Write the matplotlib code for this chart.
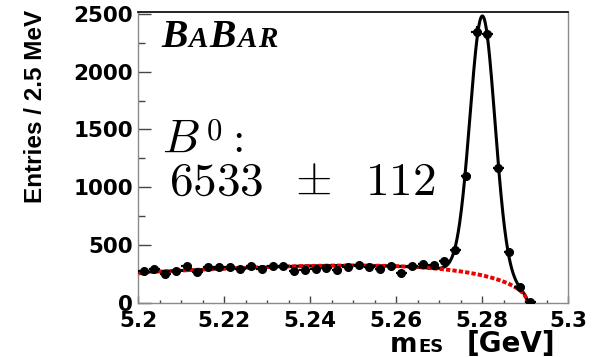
import numpy as np
import matplotlib
matplotlib.use("Agg")
import matplotlib.pyplot as plt
from matplotlib.ticker import MultipleLocator, FuncFormatter
from matplotlib.transforms import IdentityTransform

# ---- data: entries per 2.5 MeV bin of m_ES, starting at 5.200 GeV ----
m_low = 5.200
bin_width = 0.0025
entries = [275, 290, 250, 277, 320, 268, 312, 305, 308, 290,
           322, 293, 315, 320, 277, 286, 290, 300, 283, 312,
           325, 312, 289, 318, 260, 315, 338, 330, 360, 455,
           1100, 2346, 2324, 1164, 442, 139, 5]

# ---- fit result: Gaussian signal + ARGUS background ----
sig_yield = 6533
sig_yield_err = 112
sig_mean = 5.2801
sig_width = 0.0029
argus_m0 = 5.2905
argus_c = -32.0
bkg_at_low = 262.0

# axis ticks
x_ticks = [5.20, 5.22, 5.24, 5.26, 5.28, 5.30]
y_ticks = [0, 500, 1000, 1500, 2000, 2500]

W, H, DPI = 604, 357, 100
plt.rcParams["mathtext.fontset"] = "cm"


def argus_shape(m):
    x = m / argus_m0
    u = np.clip(1.0 - x * x, 0.0, None)
    return x * np.sqrt(u) * np.exp(argus_c * u)


def background(m):
    return bkg_at_low * argus_shape(m) / argus_shape(m_low)


def signal(m):
    amp = sig_yield * bin_width / (sig_width * np.sqrt(2 * np.pi))
    return amp * np.exp(-0.5 * ((m - sig_mean) / sig_width) ** 2)


fig = plt.figure(figsize=(W / DPI, H / DPI), dpi=DPI)
ax = fig.add_axes([138.3 / W, 1 - 302.7 / H, (568 - 138.3) / W, (302.7 - 11.7) / H])

counts = np.array(entries, dtype=float)
centres = m_low + bin_width * (np.arange(len(counts)) + 0.5)

# fit curves
m_tot = np.linspace(m_low, 5.2915, 1200)
ax.plot(m_tot, signal(m_tot) + background(m_tot), color="black", lw=2.2,
        zorder=3, solid_capstyle="round")
m_bkg = np.linspace(m_low, argus_m0, 800)
ax.plot(m_bkg, background(m_bkg), color="#ee0000", lw=2.8,
        linestyle=(0, (1.1, 0.55)), zorder=4)

# data points
ax.errorbar(centres, counts, yerr=np.sqrt(counts), xerr=bin_width / 2,
            fmt="o", color="black", ms=5.5, elinewidth=1.6, capsize=0, zorder=5)

ax.set_xlim(5.2, 5.3)
ax.set_ylim(0, 2520)
ax.set_xticks(x_ticks)
ax.set_yticks(y_ticks)
ax.xaxis.set_minor_locator(MultipleLocator(0.005))
ax.yaxis.set_minor_locator(MultipleLocator(250))
ax.xaxis.set_major_formatter(FuncFormatter(lambda v, p: f"{v:g}"))

for side in ("left", "bottom", "right"):
    ax.spines[side].set_color("#8a8a8a")
    ax.spines[side].set_linewidth(1.0)
ax.spines["top"].set_color("black")
ax.spines["top"].set_linewidth(1.2)

ax.tick_params(axis="y", which="major", direction="in", length=9, width=1.0,
               color="#444444", pad=4)
ax.tick_params(axis="y", which="minor", direction="in", length=5, width=1.0,
               color="#444444")
ax.tick_params(axis="x", which="major", direction="in", length=5, width=1.0,
               color="#444444", pad=6)
ax.tick_params(axis="x", which="minor", direction="in", length=2.5, width=1.0,
               color="#444444")
for lab in ax.get_xticklabels() + ax.get_yticklabels():
    lab.set_fontfamily("DejaVu Sans")
    lab.set_fontweight("bold")
    lab.set_fontsize(15.5)

# y-axis title
fig.text(35.5 / W, 1 - 106 / H, "Entries / 2.5 MeV", rotation=90,
         ha="center", va="center", family="Liberation Sans", weight="bold",
         fontsize=17.5)

renderer = fig.canvas.get_renderer()
ident = IdentityTransform()


def place_run(pieces, x0, y_img, gap=0.0):
    """Draw consecutive text pieces on one baseline, in image pixels."""
    x = x0
    for text, kw in pieces:
        t = fig.text(x, H - y_img, text, transform=ident, ha="left",
                     va="baseline", **kw)
        bb = t.get_window_extent(renderer=renderer)
        x = bb.x1 + gap
    return x


def put(text, x_img, y_img, ha="center", **kw):
    return fig.text(x_img, H - y_img, text, transform=ident, ha=ha,
                    va="baseline", **kw)


# BABAR logo
logo_kw = dict(family="Liberation Serif", weight="bold", style="italic")
big = dict(logo_kw, fontsize=28.5)
small = dict(logo_kw, fontsize=21)
place_run([("B", big), ("A", small), ("B", big), ("A", small), ("R", small)],
          161, 47, gap=1.5)

# x-axis title: m_ES [GeV]
xl_kw = dict(family="DejaVu Sans", weight="bold")
put("m", 404, 352, fontsize=19, **xl_kw)
put("ES", 431, 352, fontsize=13, **xl_kw)
put("[GeV]", 511, 352, fontsize=20, **xl_kw)

# signal yield annotation
put(r"$B$", 162, 152, ha="left", fontsize=34)
put(r"$0$", 206, 139, ha="left", fontsize=22)
put(r"$:$", 234, 152, fontsize=32)
put(rf"${sig_yield}$", 216, 195, fontsize=34)
put(r"$\pm$", 313, 195, fontsize=34)
put(rf"${sig_yield_err}$", 400, 195, fontsize=34)

fig.savefig("out.png", dpi=DPI, facecolor="white")
